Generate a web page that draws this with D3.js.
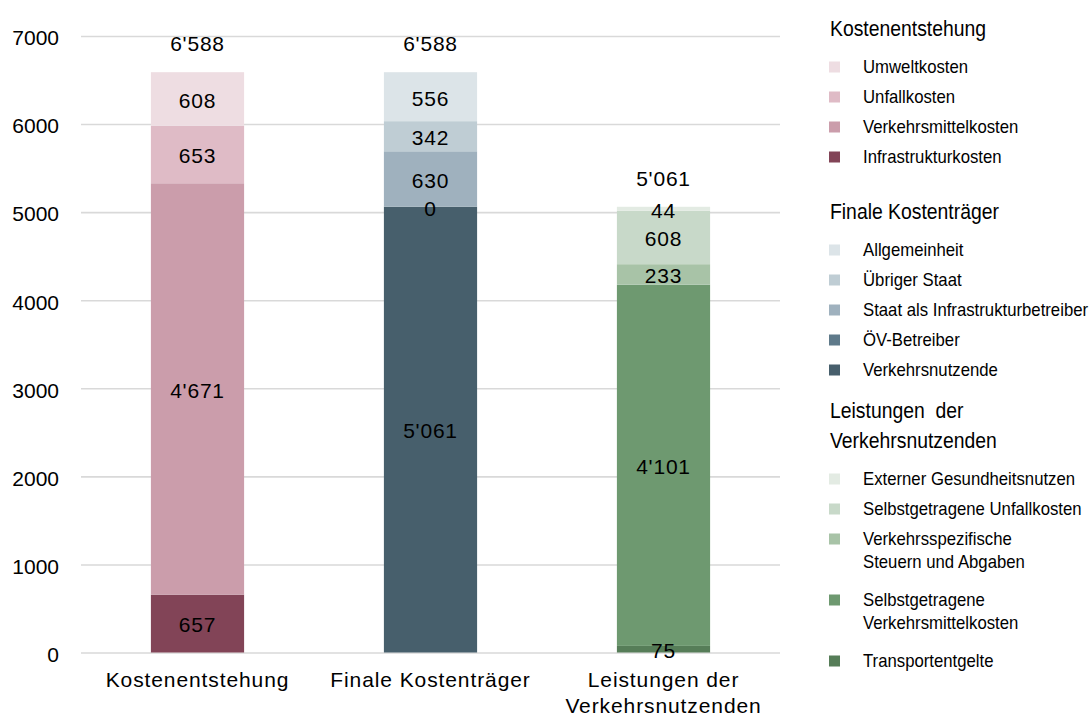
<!DOCTYPE html>
<html lang="de">
<head>
<meta charset="utf-8">
<title>Kosten und Leistungen des Verkehrs</title>
<script src="https://cdn.jsdelivr.net/npm/d3@7/dist/d3.min.js"></script>
<style>
  html, body { margin: 0; padding: 0; background: #ffffff; }
  svg { display: block; }
  .axis text { font-family: "Liberation Sans", Arial, sans-serif; fill: #000; }
  .axis path { display: none; }
</style>
</head>
<body>
<svg id="chart" width="1091" height="713"></svg>
<script>
// Categories (x axis) and their label lines
const categories = ["Kostenentstehung", "Finale Kostenträger", "Leistungen der Verkehrsnutzenden"];
const categoryLines = [["Kostenentstehung"], ["Finale Kostenträger"], ["Leistungen der", "Verkehrsnutzenden"]];

// Stacked segments per bar, listed from bottom to top
const entstehungNames = ["Infrastrukturkosten", "Verkehrsmittelkosten", "Unfallkosten", "Umweltkosten"];
const entstehungValues = [657, 4671, 653, 608];

const traegerNames = ["Verkehrsnutzende", "ÖV-Betreiber", "Staat als Infrastrukturbetreiber", "Übriger Staat", "Allgemeinheit"];
const traegerValues = [5061, 0, 630, 342, 556];

const leistungNames = ["Transportentgelte", "Selbstgetragene Verkehrsmittelkosten", "Verkehrsspezifische Steuern und Abgaben", "Selbstgetragene Unfallkosten", "Externer Gesundheitsnutzen"];
const leistungValues = [75, 4101, 233, 608, 44];

// Totals written above each bar
const totals = [6588, 6588, 5061];

// Y axis ticks
const yTicks = [0, 1000, 2000, 3000, 4000, 5000, 6000, 7000];

// Colours per stack (bottom to top)
const entstehungColors = ["#824457", "#cb9dab", "#dfbbc6", "#eedde2"];
const traegerColors = ["#475f6c", "#5f7a8a", "#9fb1be", "#bfcdd4", "#dce4e8"];
const leistungColors = ["#567d58", "#6e9970", "#a8c3a7", "#c8d9c9", "#e3ebe3"];

// Legend texts (top to bottom), wrapped lines as arrays
const legendGroups = [
  { title: ["Kostenentstehung"],
    items: [["Umweltkosten"], ["Unfallkosten"], ["Verkehrsmittelkosten"], ["Infrastrukturkosten"]],
    colors: entstehungColors.slice().reverse() },
  { title: ["Finale Kostenträger"],
    items: [["Allgemeinheit"], ["Übriger Staat"], ["Staat als Infrastrukturbetreiber"], ["ÖV-Betreiber"], ["Verkehrsnutzende"]],
    colors: traegerColors.slice().reverse() },
  { title: ["Leistungen  der", "Verkehrsnutzenden"],
    items: [["Externer Gesundheitsnutzen"], ["Selbstgetragene Unfallkosten"], ["Verkehrsspezifische", "Steuern und Abgaben"], ["Selbstgetragene", "Verkehrsmittelkosten"], ["Transportentgelte"]],
    colors: leistungColors.slice().reverse() }
];

const stacks = [
  { names: entstehungNames, values: entstehungValues, colors: entstehungColors },
  { names: traegerNames, values: traegerValues, colors: traegerColors },
  { names: leistungNames, values: leistungValues, colors: leistungColors }
];

const svg = d3.select("#chart");
const plot = { left: 81, right: 780, top: 36, bottom: 652.5 };

const x = d3.scaleBand()
  .domain(categories)
  .range([plot.left, plot.right])
  .paddingInner(0.6)
  .paddingOuter(0.3);

const y = d3.scaleLinear()
  .domain([0, 7000])
  .range([plot.bottom, plot.top]);

const fmt = d3.formatLocale({ decimal: ".", thousands: "'", grouping: [3], currency: ["", ""] }).format(",d");

// Gridlines and y tick labels
const yAxis = svg.append("g")
  .attr("class", "axis y-axis")
  .attr("transform", `translate(${plot.left},0)`)
  .call(d3.axisLeft(y).tickValues(yTicks).tickFormat(d3.format("d"))
    .tickSize(-(plot.right - plot.left)).tickPadding(22));
yAxis.selectAll(".tick line").attr("stroke", "#d9d9d9").attr("stroke-width", 1.6);
yAxis.selectAll(".tick text")
  .attr("font-size", 21)
  .attr("dy", "0.42em");

// Stacked bars
const barGroups = svg.append("g").attr("class", "bars")
  .selectAll("g")
  .data(stacks.map((s, i) => ({ cat: categories[i], ...s })))
  .join("g");

barGroups.each(function (s) {
  const g = d3.select(this);
  let acc = 0;
  const segs = s.values.map((v, j) => {
    const seg = { y0: acc, y1: acc + v, value: v, color: s.colors[j], name: s.names[j] };
    acc += v;
    return seg;
  });
  g.selectAll("rect")
    .data(segs)
    .join("rect")
    .attr("x", x(s.cat))
    .attr("width", x.bandwidth())
    .attr("y", d => y(d.y1))
    .attr("height", d => y(d.y0) - y(d.y1))
    .attr("fill", d => d.color);
  g.selectAll("text")
    .data(segs)
    .join("text")
    .attr("x", x(s.cat) + x.bandwidth() / 2)
    .attr("y", d => y((d.y0 + d.y1) / 2))
    .attr("dy", "0.42em")
    .attr("text-anchor", "middle")
    .attr("font-family", "'Liberation Sans', Arial, sans-serif")
    .attr("font-size", 21)
    .attr("letter-spacing", 0.8)
    .attr("fill", "#000")
    .text(d => fmt(d.value));
});

// Totals above the bars
svg.append("g").attr("class", "totals")
  .selectAll("text")
  .data(totals)
  .join("text")
  .attr("x", (d, i) => x(categories[i]) + x.bandwidth() / 2)
  .attr("y", d => y(d) - 30)
  .attr("dy", "0.42em")
  .attr("text-anchor", "middle")
  .attr("font-family", "'Liberation Sans', Arial, sans-serif")
  .attr("font-size", 21)
  .attr("letter-spacing", 0.8)
  .attr("fill", "#000")
  .text(d => fmt(d));

// Category labels
const xAxis = svg.append("g")
  .attr("class", "axis x-axis")
  .attr("transform", `translate(0,${plot.bottom})`)
  .call(d3.axisBottom(x).tickSize(0).tickFormat(""));
xAxis.selectAll(".tick text").remove();
xAxis.selectAll(".tick").each(function (d, i) {
  const t = d3.select(this).append("text")
    .attr("text-anchor", "middle")
    .attr("font-size", 21)
    .attr("letter-spacing", 0.9)
    .attr("fill", "#000")
    .attr("y", 27)
    .attr("dy", "0.35em");
  categoryLines[i].forEach((line, k) => {
    t.append("tspan").attr("x", 0).attr("dy", k === 0 ? "0.35em" : 26).text(line);
  });
});

// Legend: condensed text, drawn with a horizontal squeeze
const legend = svg.append("g").attr("class", "legend")
  .attr("font-family", "'Liberation Sans', Arial, sans-serif")
  .attr("fill", "#000");
const lg = { titleX: 830, swatchX: 829, textX: 863, swatch: 11, titleSize: 22, itemSize: 18, squeeze: 0.88, itemSqueeze: 0.93 };
const groupGap = [0, 54, 40];
let cy = 28;
legendGroups.forEach((grp, gi) => {
  cy += groupGap[gi];
  grp.title.forEach((line, k) => {
    if (k > 0) cy += 30;
    legend.append("text")
      .attr("transform", `translate(${lg.titleX},${cy}) scale(${lg.squeeze},1)`)
      .attr("dy", "0.36em")
      .attr("font-size", lg.titleSize)
      .style("white-space", "pre")
      .text(line);
  });
  cy += 39;
  grp.items.forEach((lines, ii) => {
    if (ii > 0) cy += (grp.items[ii - 1].length > 1 ? 38 : 30);
    legend.append("rect")
      .attr("x", lg.swatchX).attr("y", cy - lg.swatch / 2)
      .attr("width", lg.swatch).attr("height", lg.swatch)
      .attr("fill", grp.colors[ii]);
    lines.forEach((line, k) => {
      if (k > 0) cy += 23;
      legend.append("text")
        .attr("transform", `translate(${lg.textX},${cy}) scale(${lg.itemSqueeze},1)`)
        .attr("dy", "0.36em")
        .attr("font-size", lg.itemSize)
        .text(line);
    });
  });
});
</script>
</body>
</html>
